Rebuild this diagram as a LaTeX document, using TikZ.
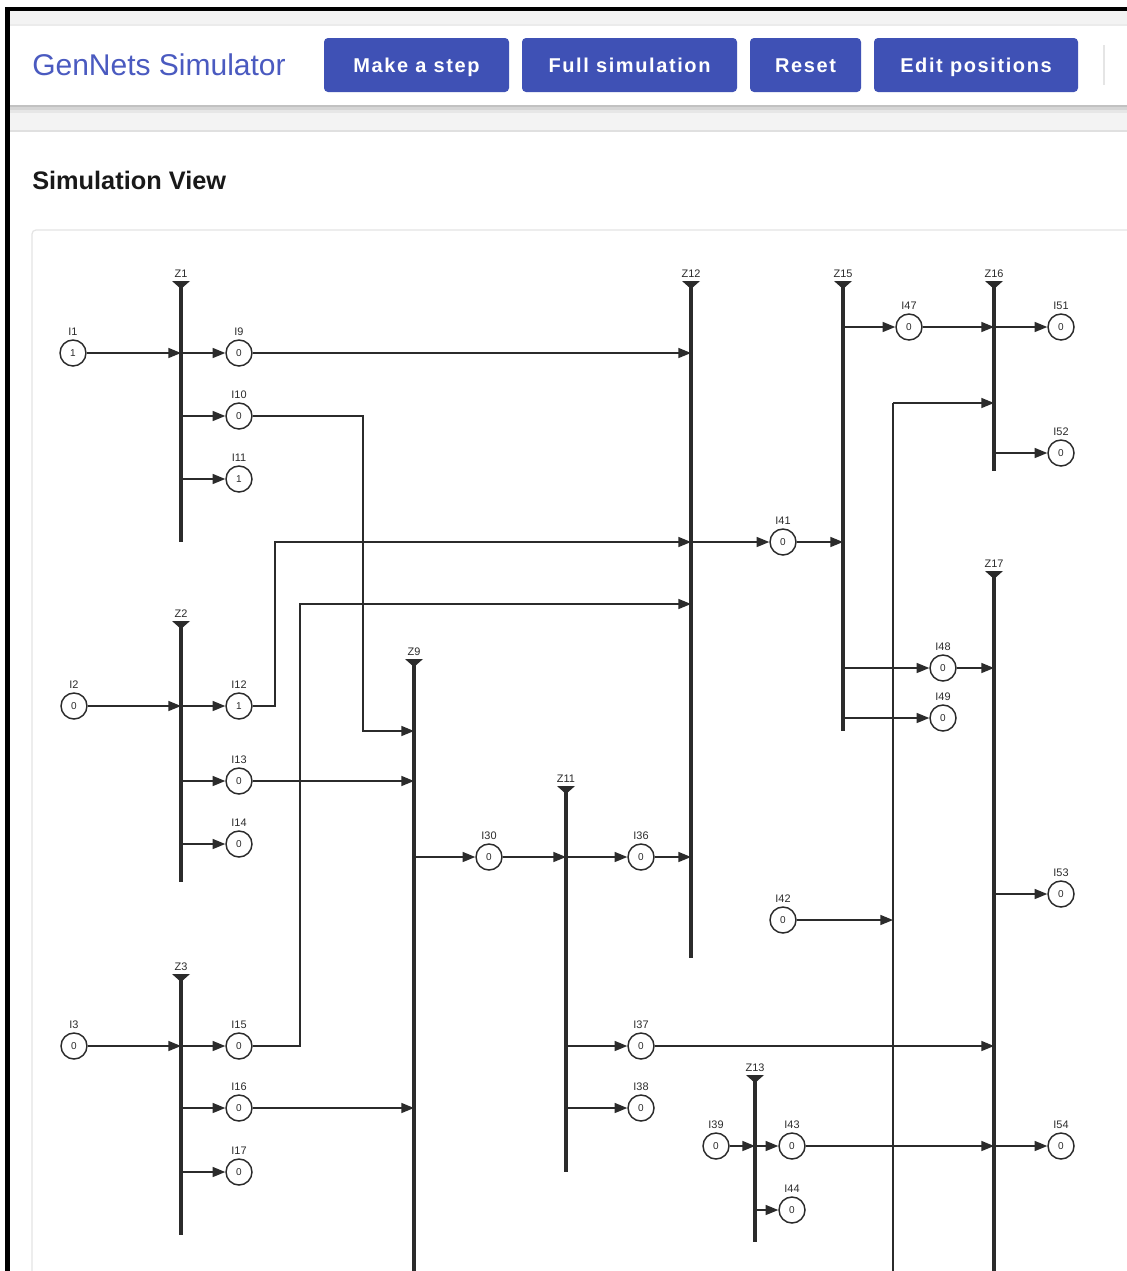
\documentclass[tikz,border=0pt]{standalone}
\usepackage{fontspec}
\setmainfont{Liberation Sans}
\newfontfamily\btnfont[LetterSpace=8]{Liberation Sans}
\usetikzlibrary{arrows.meta}
\definecolor{indigo}{HTML}{3F51B5}
\definecolor{titleblue}{HTML}{4A5AC0}
\definecolor{ink}{HTML}{2B2B2B}
\definecolor{headgrey}{HTML}{F3F3F3}
\definecolor{cardline}{HTML}{E4E4E4}

\tikzset{
  btn/.style={fill=indigo, rounded corners=3pt, text=white, inner sep=0pt,
    minimum height=40.5pt, text height=10.8pt, text depth=0pt,
    font=\btnfont\bfseries\fontsize{15}{18}\selectfont},
  place/.style={circle, draw=ink, line width=1.1pt, fill=white, minimum size=19.5pt,
    inner sep=0pt, text=ink, font=\fontsize{7.5}{8}\selectfont},
  plabel/.style={font=\fontsize{8.2}{9}\selectfont, text=ink, inner sep=0pt},
  arcline/.style={draw=ink, line width=1.1pt},
  arc/.style={arcline, -{Triangle[length=9.5pt,width=7.5pt]}},
  bar/.style={draw=ink, line width=2.3pt},
}

\newcommand\trans[4]{%
  \coordinate (#1) at (#2,#3);
  \coordinate (#1b) at (#2,#4);
  \draw[bar] ({#2},{#3+5}) -- (#1b);
  \fill[ink] ({#2-9},{#3}) -- ({#2+9},{#3}) -- ({#2},{#3+8}) -- cycle;
  \node[plabel] (#1lbl) at ({#2},{#3-7}) {#1};
}
\newcommand\pl[4]{%
  \node[place, label={[plabel, label distance=2.3pt]above:#1}] (#1) at (#2,#3) {#4};
}

\begin{document}
\begin{tikzpicture}[x=0.75pt,y=-0.75pt]
\useasboundingbox (0,0) rectangle (1127,1271);
\fill[white] (0,0) rectangle (1127,1271);

% header area
\fill[headgrey] (10,11) rectangle (1127,131);
\fill[black, opacity=0.05] (10,105) rectangle (1127,113);
\fill[black, opacity=0.07] (10,105) rectangle (1127,110);
\fill[black, opacity=0.09] (10,105) rectangle (1127,107);
\fill[white] (10,25) rectangle (1127,105);
\draw[black!8, line width=0.8pt] (10,25) -- (1127,25);
\draw[black!12, line width=0.8pt] (10,131) -- (1127,131);
\draw[black!10, line width=0.8pt] (1104,45) -- (1104,85);

\node[anchor=west, text=titleblue, font=\fontsize{22.5}{26}\selectfont, inner sep=0pt] (title) at (32,65) {GenNets Simulator};
\node[btn, minimum width=138.75pt] (bstep) at (416.5,65) {Make a step};
\node[btn, minimum width=161.25pt] (bfull) at (629.5,65) {Full simulation};
\node[btn, minimum width=83.25pt] (breset) at (805.5,65) {Reset};
\node[btn, minimum width=153pt] (bedit) at (976,65) {Edit positions};

\node[anchor=west, text=black!90, font=\bfseries\fontsize{19}{22}\selectfont, inner sep=0pt] (simview) at (32,180) {Simulation View};

% inner card
\draw[cardline, line width=0.9pt, rounded corners=3pt] (1130,230) -- (32,230) -- (32,1275);

% outer frame
\fill[black] (5,7) rectangle (1127,11);
\fill[black] (5,7) rectangle (10,1271);

% transitions
\trans{Z1}{181}{281}{542}
\trans{Z2}{181}{621}{882}
\trans{Z3}{181}{974}{1235}
\trans{Z9}{414}{659}{1275}
\trans{Z11}{566}{786}{1172}
\trans{Z12}{691}{281}{958}
\trans{Z13}{755}{1075}{1242}
\trans{Z15}{843}{281}{731}
\trans{Z16}{994}{281}{471}
\trans{Z17}{994}{571}{1275}

% places
\pl{I1}{73}{353}{1}
\pl{I9}{239}{353}{0}
\pl{I10}{239}{416}{0}
\pl{I11}{239}{479}{1}
\pl{I2}{74}{706}{0}
\pl{I12}{239}{706}{1}
\pl{I13}{239}{781}{0}
\pl{I14}{239}{844}{0}
\pl{I3}{74}{1046}{0}
\pl{I15}{239}{1046}{0}
\pl{I16}{239}{1108}{0}
\pl{I17}{239}{1172}{0}
\pl{I30}{489}{857}{0}
\pl{I36}{641}{857}{0}
\pl{I37}{641}{1046}{0}
\pl{I38}{641}{1108}{0}
\pl{I39}{716}{1146}{0}
\pl{I43}{792}{1146}{0}
\pl{I44}{792}{1210}{0}
\pl{I41}{783}{542}{0}
\pl{I42}{783}{920}{0}
\pl{I47}{909}{327}{0}
\pl{I48}{943}{668}{0}
\pl{I49}{943}{718}{0}
\pl{I51}{1061}{327}{0}
\pl{I52}{1061}{453}{0}
\pl{I53}{1061}{894}{0}
\pl{I54}{1061}{1146}{0}

% route coordinates
\coordinate (r10) at (363,731);
\coordinate (r12) at (275,542);
\coordinate (r15) at (300,604);
\coordinate (v893) at (893,403);
\coordinate (v893b) at (893,1275);

% arcs: Z1
\draw[arc] (I1) -- (I1 -| Z1);
\draw[arc] (Z1 |- I9) -- (I9);
\draw[arc] (Z1 |- I10) -- (I10);
\draw[arc] (Z1 |- I11) -- (I11);
% Z2
\draw[arc] (I2) -- (I2 -| Z2);
\draw[arc] (Z2 |- I12) -- (I12);
\draw[arc] (Z2 |- I13) -- (I13);
\draw[arc] (Z2 |- I14) -- (I14);
% Z3
\draw[arc] (I3) -- (I3 -| Z3);
\draw[arc] (Z3 |- I15) -- (I15);
\draw[arc] (Z3 |- I16) -- (I16);
\draw[arc] (Z3 |- I17) -- (I17);
% into Z12
\draw[arc] (I9) -- (I9 -| Z12);
\draw[arc] (I12) -| (r12) -- (r12 -| Z12);
\draw[arc] (I15) -| (r15) -- (r15 -| Z12);
\draw[arc] (I36) -- (I36 -| Z12);
\draw[arc] (Z12 |- I41) -- (I41);
% into Z9
\draw[arc] (I10) -| (r10) -- (r10 -| Z9);
\draw[arc] (I13) -- (I13 -| Z9);
\draw[arc] (I16) -- (I16 -| Z9);
\draw[arc] (Z9 |- I30) -- (I30);
% Z11
\draw[arc] (I30) -- (I30 -| Z11);
\draw[arc] (Z11 |- I36) -- (I36);
\draw[arc] (Z11 |- I37) -- (I37);
\draw[arc] (Z11 |- I38) -- (I38);
% Z15
\draw[arc] (I41) -- (I41 -| Z15);
\draw[arc] (Z15 |- I47) -- (I47);
\draw[arc] (Z15 |- I48) -- (I48);
\draw[arc] (Z15 |- I49) -- (I49);
% Z16
\draw[arc] (I47) -- (I47 -| Z16);
\draw[arc] (Z16 |- I51) -- (I51);
\draw[arc] (Z16 |- I52) -- (I52);
\draw[arcline] (v893b) -- (v893);
\draw[arc] (v893) -- (v893 -| Z16);
\draw[arc] (I42) -- (I42 -| v893);
% Z17
\draw[arc] (I48) -- (I48 -| Z17);
\draw[arc] (I37) -- (I37 -| Z17);
\draw[arc] (I43) -- (I43 -| Z17);
\draw[arc] (Z17 |- I53) -- (I53);
\draw[arc] (Z17 |- I54) -- (I54);
% Z13
\draw[arc] (I39) -- (I39 -| Z13);
\draw[arc] (Z13 |- I43) -- (I43);
\draw[arc] (Z13 |- I44) -- (I44);
\end{tikzpicture}
\end{document}
